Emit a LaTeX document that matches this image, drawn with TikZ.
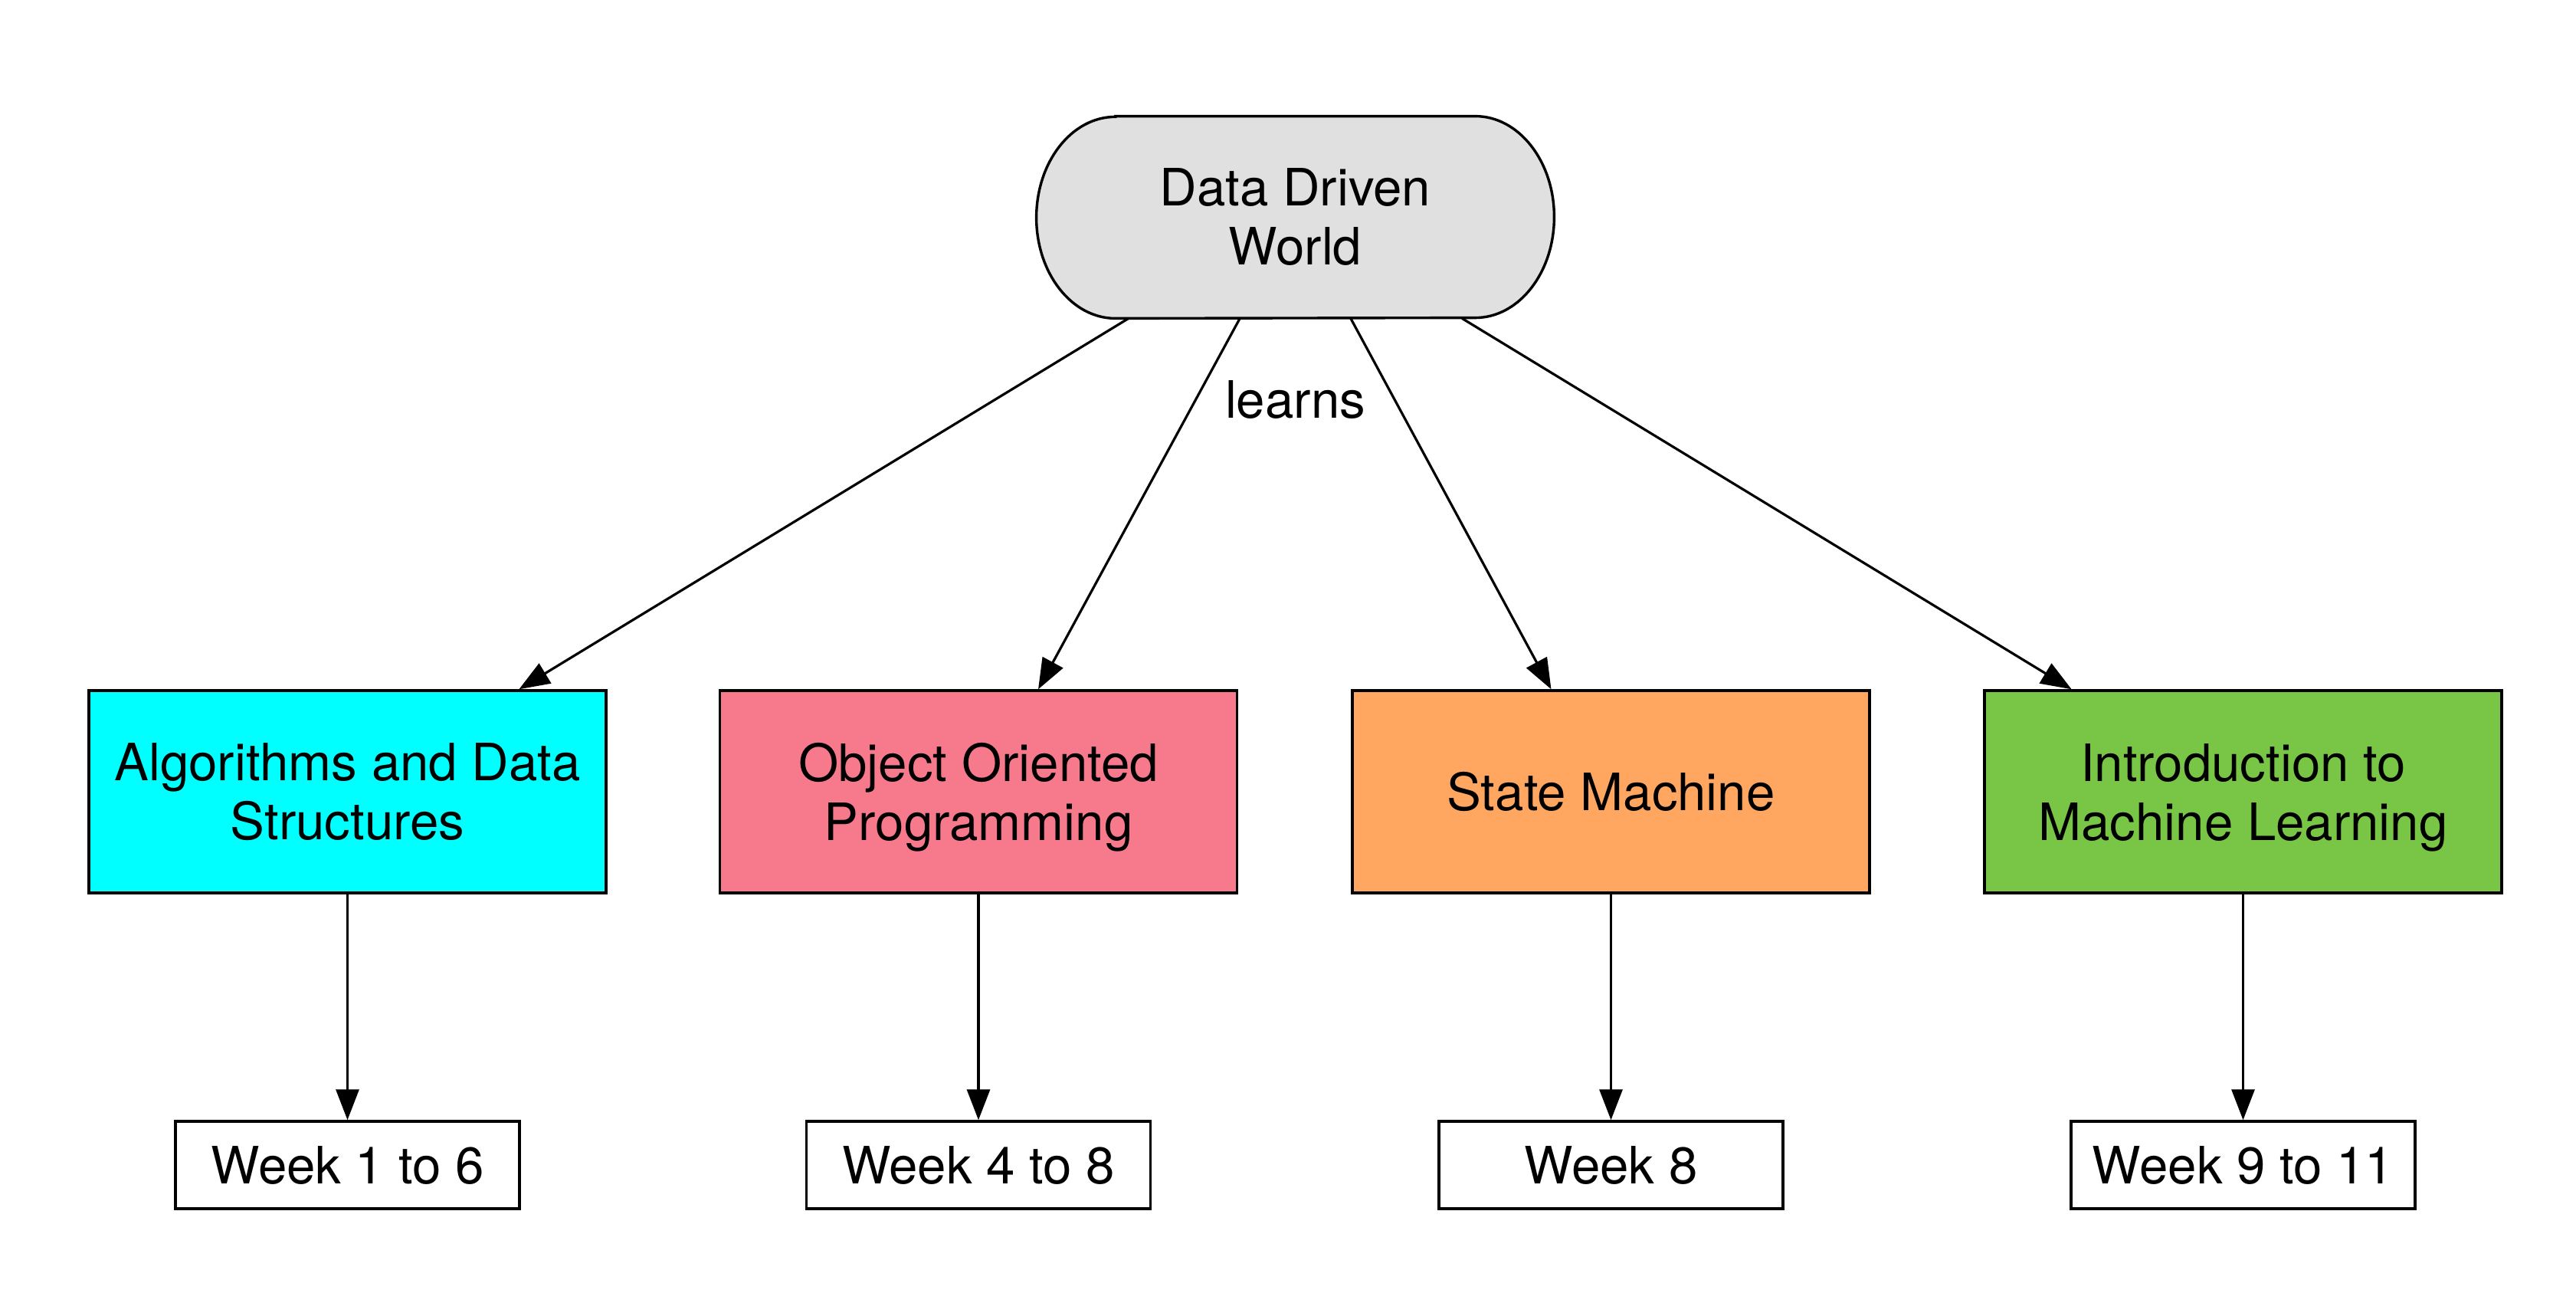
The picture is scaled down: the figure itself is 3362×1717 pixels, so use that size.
\documentclass[tikz,border=0pt]{standalone}
\usepackage{fontspec}
\setmainfont{TeX Gyre Heros}
\usetikzlibrary{arrows.meta,calc,backgrounds}
\definecolor{cloudgray}{HTML}{E0E0E0}
\definecolor{algocyan}{HTML}{00FFFF}
\definecolor{oopink}{HTML}{F67A8C}
\definecolor{fsmorange}{HTML}{FFA661}
\definecolor{mlgreen}{HTML}{79C545}
% a line whose descenders do not count for vertical centring
\newcommand{\nodepth}[1]{\raisebox{0pt}[\height][0pt]{#1}}

\begin{document}
\begin{tikzpicture}[x=0.5pt,y=-0.5pt,
  every node/.style={font=\fontsize{33.6}{38.5}\selectfont, text=black},
  topic/.style={draw=black, line width=1.7pt, minimum width=337.5pt, minimum height=132pt, inner sep=0pt, align=center},
  weekbox/.style={draw=black, fill=white, line width=1.7pt, minimum width=224.5pt, minimum height=57pt, inner sep=0pt},
  link/.style={line width=1.6pt, -{Triangle[length=20pt,width=15pt]}}
]
\useasboundingbox (0,0) rectangle (3362,1717);

% root: rectangle with elliptical ends
\node[minimum width=337.5pt, minimum height=131.5pt, inner sep=0pt, align=center] (top) at (1690.5,283.5) {Data Driven\\World};
\begin{scope}[on background layer]
  \draw[line width=1.7pt, fill=cloudgray]
    ([xshift=51.5pt]top.north west) -- ([xshift=-51.5pt]top.north east)
    arc[start angle=90, end angle=-90, x radius=51.5pt, y radius=65.75pt]
    -- ([xshift=51.5pt]top.south west)
    arc[start angle=270, end angle=90, x radius=51.5pt, y radius=65.75pt]
    -- cycle;
\end{scope}

% topics
\node[topic, fill=algocyan]  (ads) at (453.5,1033)  {Algorithms and Data\\Structures};
\node[topic, fill=oopink]    (oop) at (1277,1033)   {Object Oriented\\\nodepth{Programming}};
\node[topic, fill=fsmorange] (fsm) at (2102.5,1033) {State Machine};
\node[topic, fill=mlgreen]   (iml) at (2927.5,1033) {Introduction to\\\nodepth{Machine Learning}};

% schedule
\node[weekbox] (w1) at (453.5,1520)  {Week 1 to 6};
\node[weekbox] (w2) at (1277,1520)   {Week 4 to 8};
\node[weekbox] (w3) at (2102.5,1520) {Week 8};
\node[weekbox] (w4) at (2927.5,1520) {Week 9 to 11};

\node[anchor=base] (lbl) at (1690.5,545) {learns};

% connectors
\draw[link] ($(top.south west)!0.178!(top.south east)$) -- ($(ads.north west)!0.83!(ads.north east)$);
\draw[link] ($(top.south west)!0.393!(top.south east)$) -- ($(oop.north west)!0.615!(oop.north east)$);
\draw[link] ($(top.south west)!0.607!(top.south east)$) -- ($(fsm.north west)!0.385!(fsm.north east)$);
\draw[link] ($(top.south west)!0.822!(top.south east)$) -- ($(iml.north west)!0.17!(iml.north east)$);

\draw[link] (ads) -- (w1);
\draw[link] (oop) -- (w2);
\draw[link] (fsm) -- (w3);
\draw[link] (iml) -- (w4);
\end{tikzpicture}
\end{document}
